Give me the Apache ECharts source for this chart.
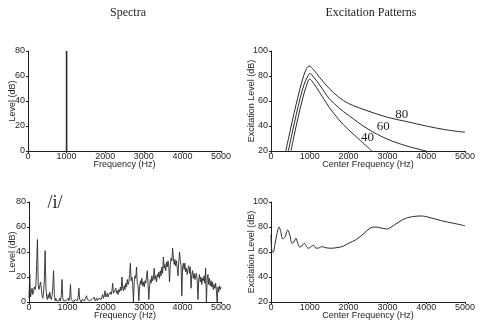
<!DOCTYPE html>
<html>
<head>
<meta charset="utf-8">
<script src="https://cdn.jsdelivr.net/npm/echarts@6/dist/echarts.min.js"></script>
<style>html,body{margin:0;padding:0;background:#fff}#c{width:500px;height:331px}</style>
</head>
<body>
<div id="c"></div>
<script>
// ---- Data ----
// Top-left: pure tone spectrum
const toneFreq = [1000];
const toneLevel = [80];

// Top-right: excitation patterns for tone at 40, 60, 80 dB
const ep80Freq = [380, 500, 600, 700, 800, 900, 980, 1100, 1250, 1500, 1750, 2000, 2500, 3000, 3500, 4000, 4500, 5000];
const ep80Level = [20, 37, 51, 64, 76, 85, 88, 85, 79, 70, 63, 58, 52, 47, 43.5, 40, 37, 35];
const ep60Freq = [446, 550, 650, 750, 850, 950, 1000, 1100, 1250, 1500, 1750, 2000, 2500, 3000, 3500, 4000];
const ep60Level = [20, 35, 49, 62, 73, 80, 82, 79, 73, 62, 54.5, 48.5, 37.5, 29.5, 24, 20];
const ep40Freq = [515, 600, 700, 800, 900, 1000, 1100, 1250, 1500, 1750, 2000, 2300, 2600];
const ep40Level = [20, 33, 47, 60, 71, 77.5, 74, 67, 55, 45, 37, 28.5, 20];
const epLabels = ['80', '60', '40'];
const epLabelFreq = [3369, 2894, 2490];
const epLabelLevel = [48.8, 39.4, 30.8];

// Bottom-left: /i/ vowel spectrum, one value per 20 Hz bin from 0 to 5000 Hz
const specStep = 20;
const specLevel = [
  3, 22, 4, 8, 11, 6, 9, 12, 10, 14,
  30, 50, 14, 10, 13, 16, 11, 5, 3, 8,
  18, 41, 12, 4, 2, 6, 3, 8, 4, 2,
  5, 12, 25, 6, 1, 3, 1, 0, 2, 1,
  3, 1, 5, 18, 3, 1, 2, 0, 1, 2,
  1, 3, 1, 4, 14, 2, 1, 2, 0, 1,
  2, 1, 2, 1, 4, 11, 2, 1, 0, 2,
  1, 2, 1, 1, 2, 5, 2, 1, 2, 1,
  2, 1, 2, 1, 2, 4, 1, 2, 3, 1,
  2, 3, 2, 3, 2, 4, 6, 3, 5, 9,
  4, 5, 7, 4, 6, 5, 8, 6, 9, 15,
  7, 6, 8, 11, 7, 9, 6, 10, 8, 12,
  9, 20, 11, 9, 13, 10, 15, 12, 18, 14,
  16, 22, 31, 17, 20, 14, 0, 16, 21, 19,
  28, 15, 13, 1, 12, 17, 14, 19, 13, 16,
  12, 17, 15, 20, 25, 14, 2, 13, 18, 15,
  21, 17, 19, 27, 18, 21, 16, 22, 20, 24,
  19, 25, 21, 28, 23, 36, 27, 30, 25, 32,
  28, 33, 29, 16, 30, 35, 33, 43, 35, 30,
  34, 29, 33, 27, 21, 32, 40, 33, 29, 5,
  28, 31, 26, 31, 24, 27, 22, 26, 29, 23,
  28, 11, 22, 25, 19, 23, 18, 21, 23, 17,
  2, 18, 22, 16, 20, 14, 19, 17, 21, 15,
  27, 0, 18, 22, 14, 19, 13, 17, 12, 16,
  10, 14, 11, 15, 9, 0, 12, 8, 13, 10,
  12
];

// Bottom-right: excitation pattern of /i/
const epiFreq = [0, 30, 60, 100, 150, 210, 260, 300, 360, 430, 490, 540, 590, 640, 690, 740, 800, 860, 910, 960, 1020, 1090, 1140, 1190, 1250, 1310, 1400, 1550, 1700, 1850, 2000, 2200, 2400, 2550, 2680, 2800, 2980, 3150, 3400, 3650, 3880, 4100, 4400, 4700, 5000];
const epiLevel = [74, 60, 60, 66, 74, 80, 75, 70.5, 72, 77.5, 73, 67, 68, 71, 67, 64, 65, 67, 64.5, 63, 64, 65.5, 63.5, 63, 63.5, 64.3, 63.5, 63, 63.5, 64.5, 67, 70, 75, 79, 80, 79.5, 78.4, 81, 86, 88.3, 88.8, 87.5, 85, 83, 81];

// Tick settings
const freqTicks = { min: 0, max: 5000, interval: 1000 };
const spectraLevelTicks = { min: 0, max: 80, interval: 20 };
const excitationLevelTicks = { min: 20, max: 100, interval: 20 };

// ---- Chart ----
const zip = (a, b) => a.map((v, i) => [v, b[i]]);
const specData = specLevel.map((v, i) => [i * specStep, v]);

const ink = '#1e1e1e';
const sans = 'Liberation Sans, Arial, sans-serif';
const serif = 'Liberation Serif, Times New Roman, serif';
const plain = v => String(v);

function xAx(gi, name) {
  return {
    type: 'value', gridIndex: gi, min: freqTicks.min, max: freqTicks.max, interval: freqTicks.interval,
    name: name, nameLocation: 'middle', nameGap: 9, nameMoveOverlap: false,
    nameTextStyle: { color: ink, fontSize: 9, fontFamily: sans },
    axisLine: { show: true, onZero: false, lineStyle: { color: ink, width: 1 } },
    axisTick: { show: true, length: 2, lineStyle: { color: ink } },
    axisLabel: { color: ink, fontSize: 9, fontFamily: sans, margin: 1, formatter: plain, hideOverlap: false },
    splitLine: { show: false }
  };
}
function yAx(gi, ticks, name, gap) {
  return {
    type: 'value', gridIndex: gi, min: ticks.min, max: ticks.max, interval: ticks.interval,
    name: name, nameLocation: 'middle', nameGap: gap, nameRotate: 90, nameMoveOverlap: false,
    nameTextStyle: { color: ink, fontSize: 9, fontFamily: sans },
    axisLine: { show: true, onZero: false, lineStyle: { color: ink, width: 1 } },
    axisTick: { show: true, length: 2, lineStyle: { color: ink } },
    axisLabel: { color: ink, fontSize: 9, fontFamily: sans, margin: 3, formatter: plain, hideOverlap: false },
    splitLine: { show: false }
  };
}
function lineSeries(idx, data, opts) {
  return Object.assign({
    type: 'line', xAxisIndex: idx, yAxisIndex: idx, data: data,
    showSymbol: false, symbol: 'none', clip: true, animation: false,
    lineStyle: { color: '#2a2a2a', width: 1 }
  }, opts || {});
}

const chart = echarts.init(document.getElementById('c'), null, { renderer: 'canvas' });
const epSeries = [
  [ep80Freq, ep80Level], [ep60Freq, ep60Level], [ep40Freq, ep40Level]
].map((p, k) => lineSeries(1, zip(p[0], p[1]), {
  smooth: 0.35,
  markPoint: {
    symbol: 'circle', symbolSize: 1, itemStyle: { color: 'rgba(0,0,0,0)' },
    label: { show: true, position: 'inside', formatter: epLabels[k], color: ink, fontSize: 13, fontFamily: serif },
    data: [{ coord: [epLabelFreq[k], epLabelLevel[k]] }]
  }
}));

chart.setOption({
  backgroundColor: '#fff',
  animation: false,
  grid: [
    { left: 28, top: 51, width: 193, height: 100, containLabel: false, outerBoundsMode: 'none' },
    { left: 271, top: 51, width: 194, height: 100, containLabel: false, outerBoundsMode: 'none' },
    { left: 29, top: 202, width: 192, height: 100, containLabel: false, outerBoundsMode: 'none' },
    { left: 271, top: 202, width: 194, height: 100, containLabel: false, outerBoundsMode: 'none' }
  ],
  xAxis: [
    xAx(0, 'Frequency (Hz)'), xAx(1, 'Center Frequency (Hz)'),
    xAx(2, 'Frequency (Hz)'), xAx(3, 'Center Frequency (Hz)')
  ],
  yAxis: [
    yAx(0, spectraLevelTicks, 'Level (dB)', 11),
    yAx(1, excitationLevelTicks, 'Excitation Level (dB)', 15),
    yAx(2, spectraLevelTicks, 'Level (dB)', 12),
    yAx(3, excitationLevelTicks, 'Excitation Level (dB)', 15)
  ],
  graphic: [
    { type: 'text', x: 128, y: 13, style: { text: 'Spectra', fill: ink, font: '12px ' + serif, textAlign: 'center', textVerticalAlign: 'middle' } },
    { type: 'text', x: 371, y: 13, style: { text: 'Excitation Patterns', fill: ink, font: '12px ' + serif, textAlign: 'center', textVerticalAlign: 'middle' } },
    { type: 'text', x: 55, y: 203, style: { text: '/i/', fill: ink, font: '18px ' + serif, textAlign: 'center', textVerticalAlign: 'middle' } }
  ],
  series: [
    lineSeries(0, toneFreq.flatMap((f, i) => [[f, 0], [f, toneLevel[i]], [f, 0]]), { lineStyle: { color: '#2a2a2a', width: 1.6 } }),
    ...epSeries,
    lineSeries(2, specData, { lineStyle: { color: '#2a2a2a', width: 0.9 } }),
    lineSeries(3, zip(epiFreq, epiLevel), { smooth: 0.35 })
  ]
});
</script>
</body>
</html>
